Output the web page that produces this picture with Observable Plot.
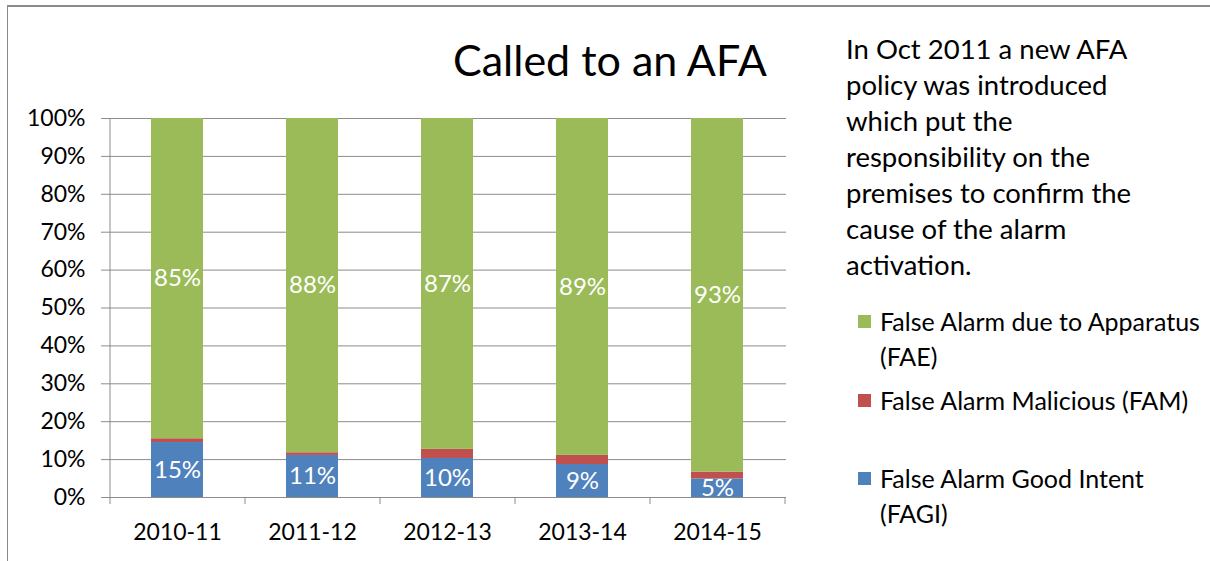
<!DOCTYPE html>
<html><head><meta charset="utf-8">
<script src="https://cdn.jsdelivr.net/npm/d3@7"></script>
<script src="https://cdn.jsdelivr.net/npm/@observablehq/plot@0.6"></script>
<style>
body{margin:0;background:#fff;font-family:Lato,"Open Sans",sans-serif;color:#000;}
#wrap{position:relative;width:1210px;height:561px;overflow:hidden;background:#fff;}
#border{position:absolute;left:7px;top:5px;width:1400px;height:700px;border-left:1px solid #8a8a8a;border-top:2px solid #8a8a8a;}
#chart{position:absolute;left:0;top:0;}
#title{position:absolute;left:453px;top:38px;font-size:43px;line-height:43px;white-space:nowrap;}
#note{position:absolute;left:846px;top:31px;font-size:27.5px;line-height:36px;white-space:nowrap;}
#legend{position:absolute;left:858px;top:0;font-size:25px;line-height:35px;}
.item{position:absolute;left:0;white-space:nowrap;}
.sw{position:absolute;left:0;top:11px;width:13px;height:13px;}
.lt{position:absolute;left:22px;top:0;}
</style></head><body>
<div id="wrap">
<div id="border"></div>
<div id="chart"></div>
<div id="title"></div>
<div id="note"></div>
<div id="legend"></div>
</div>
<script>
const years = ["2010-11","2011-12","2012-13","2013-14","2014-15"];
const seriesKeys = ["FAGI","FAM","FAE"];
const fagi = [14.5, 11.1, 10.3, 8.7, 4.9];
const fam  = [1.0, 0.7, 2.4, 2.4, 1.8];
const fae  = [84.5, 88.2, 87.3, 88.9, 93.3];
const seriesColors = ["#4F81BD","#C0504D","#9BBB59"];
const yTicks = [0,10,20,30,40,50,60,70,80,90,100];
const titleText = "Called to an AFA";
const noteLines = ["In Oct 2011 a new AFA","policy was introduced","which put the","responsibility on the","premises to confirm the","cause of the alarm","activation."];
const legendKeys = ["FAE","FAM","FAGI"];
const legendLines = [["False Alarm due to Apparatus","(FAE)"],["False Alarm Malicious (FAM)"],["False Alarm Good Intent","(FAGI)"]];
const labelledSeries = ["FAGI","FAE"];

const valuesBySeries = {FAGI: fagi, FAM: fam, FAE: fae};
const rows = [];
years.forEach((yr, i) => seriesKeys.forEach(s => rows.push({year: yr, series: s, value: valuesBySeries[s][i]})));

const W = 1210, H = 561;
const plot = Plot.plot({
  width: W, height: H,
  marginLeft: 108, marginRight: 424, marginTop: 118, marginBottom: 64,
  style: {fontFamily: "Lato, 'Open Sans', sans-serif", background: "transparent"},
  x: {domain: years, paddingInner: 0.615, paddingOuter: 0.3075, label: null},
  y: {domain: [0, 100], label: null},
  color: {domain: seriesKeys, range: seriesColors},
  marks: [
    Plot.gridY(yTicks, {stroke: "#8c8c8c", strokeOpacity: 1, strokeWidth: 1}),
    Plot.barY(rows, {x: "year", y: "value", fill: "series", order: seriesKeys}),
    Plot.text(rows, Plot.stackY({x: "year", y: "value", z: "series", order: seriesKeys,
      text: d => labelledSeries.includes(d.series) ? Math.round(d.value) + "%" : null,
      fill: "white", fontSize: 24})),
    Plot.axisY(yTicks, {tickFormat: d => d + "%", fontSize: 23, tickSize: 7, tickPadding: 16, stroke: "#8c8c8c", fill: "#000", label: null}),
    Plot.axisX({fontSize: 23, tickSize: 0, tickPadding: 26, fill: "#000", label: null})
  ]
});
document.getElementById("chart").appendChild(plot);

// axis lines and category-boundary ticks derived from the x scale
const xs = plot.scale("x"), ys = plot.scale("y");
const step = xs.step, bw = xs.bandwidth;
const bounds = years.map(y => xs.apply(y) - (step - bw) / 2);
bounds.push(bounds[bounds.length - 1] + step);
const svg = d3.select(plot);
const y0 = ys.apply(0), y100 = ys.apply(100);
const g = svg.append("g").attr("stroke", "#8c8c8c").attr("stroke-width", 1);
g.append("line").attr("x1", bounds[0] + 0.5).attr("x2", bounds[0] + 0.5).attr("y1", y100).attr("y2", y0);
g.append("line").attr("x1", bounds[0]).attr("x2", bounds[bounds.length-1]).attr("y1", y0 + 0.5).attr("y2", y0 + 0.5);
bounds.forEach(b => g.append("line").attr("x1", b + 0.5).attr("x2", b + 0.5).attr("y1", y0).attr("y2", y0 + 7));

document.getElementById("title").textContent = titleText;
document.getElementById("note").innerHTML = noteLines.map(l => `<div>${l}</div>`).join("");
const legendTops = [304, 383, 461];
const leg = document.getElementById("legend");
legendKeys.forEach((k, i) => {
  const it = document.createElement("div");
  it.className = "item";
  it.style.top = legendTops[i] + "px";
  it.innerHTML = `<div class="sw" style="background:${seriesColors[seriesKeys.indexOf(k)]}"></div><div class="lt">${legendLines[i].join("<br>")}</div>`;
  leg.appendChild(it);
});
</script>
</body></html>
